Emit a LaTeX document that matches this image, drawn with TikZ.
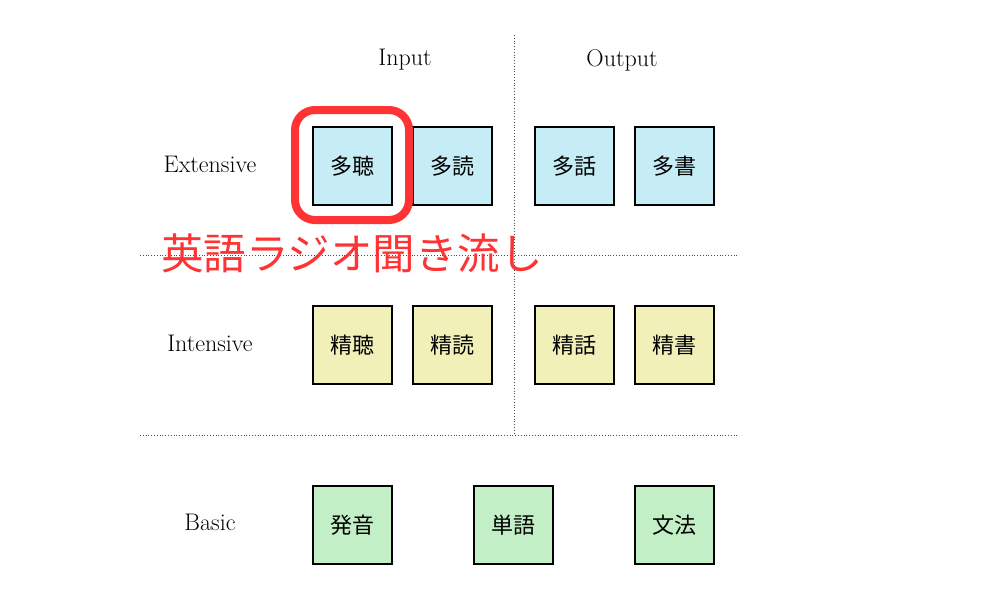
\documentclass[tikz,border=0pt]{standalone}
\usepackage{fontspec}
\newfontfamily\cjk{Noto Sans CJK JP}
\definecolor{bblue}{RGB}{198,236,245}
\definecolor{byel}{RGB}{241,240,184}
\definecolor{bgreen}{RGB}{194,239,197}
\definecolor{hred}{RGB}{255,51,51}
\tikzset{
  cell/.style={draw=black, line width=1.6pt, minimum width=79pt, minimum height=78pt, inner sep=0pt, font=\cjk\fontsize{22}{22}\selectfont},
  ext/.style={cell, fill=bblue},
  int/.style={cell, fill=byel},
  bas/.style={cell, fill=bgreen},
  lbl/.style={font=\fontsize{24}{24}\selectfont, inner sep=0pt},
  sep/.style={draw=black!70, line width=0.8pt, dotted}
}
\begin{document}
\begin{tikzpicture}[x=1pt,y=-1pt]
\useasboundingbox (0,0) rectangle (1000,600);
% separators
\coordinate (vt) at (514,35);
\coordinate (vb) at (514,435);
\coordinate (h1l) at (140,255);
\coordinate (h1r) at (737,255);
\coordinate (h2l) at (140,435);
\coordinate (h2r) at (737,435);
\draw[sep] (vt) -- (vb);
\draw[sep] (h1l) -- (h1r);
\draw[sep] (h2l) -- (h2r);
% headers
\node[lbl] (in) at (405,60) {Input};
\node[lbl] (out) at (622,60) {Output};
\node[lbl] (le) at (210,164) {Extensive};
\node[lbl] (li) at (210,343) {Intensive};
\node[lbl] (lb) at (210,522) {Basic};
% row 1
\node[ext] (a1) at (352.5,166) {多聴};
\node[ext] (a2) at (452.5,166) {多読};
\node[ext] (a3) at (574.5,166) {多話};
\node[ext] (a4) at (674.5,166) {多書};
% row 2
\node[int] (b1) at (352.5,345) {精聴};
\node[int] (b2) at (452.5,345) {精読};
\node[int] (b3) at (574.5,345) {精話};
\node[int] (b4) at (674.5,345) {精書};
% row 3
\node[bas] (c1) at (352.5,525) {発音};
\node[bas] (c2) at (513.5,525) {単語};
\node[bas] (c3) at (674.5,525) {文法};
% highlight
\node[draw=hred, line width=8pt, rounded corners=20pt, minimum width=114pt, minimum height=110pt] (hl) at (352,165) {};
\node[text=hred, font=\cjk\fontsize{42.5}{42.5}\selectfont, inner sep=0pt, anchor=west] (rt) at (161,253) {英語ラジオ聞き流し};
\end{tikzpicture}
\end{document}
